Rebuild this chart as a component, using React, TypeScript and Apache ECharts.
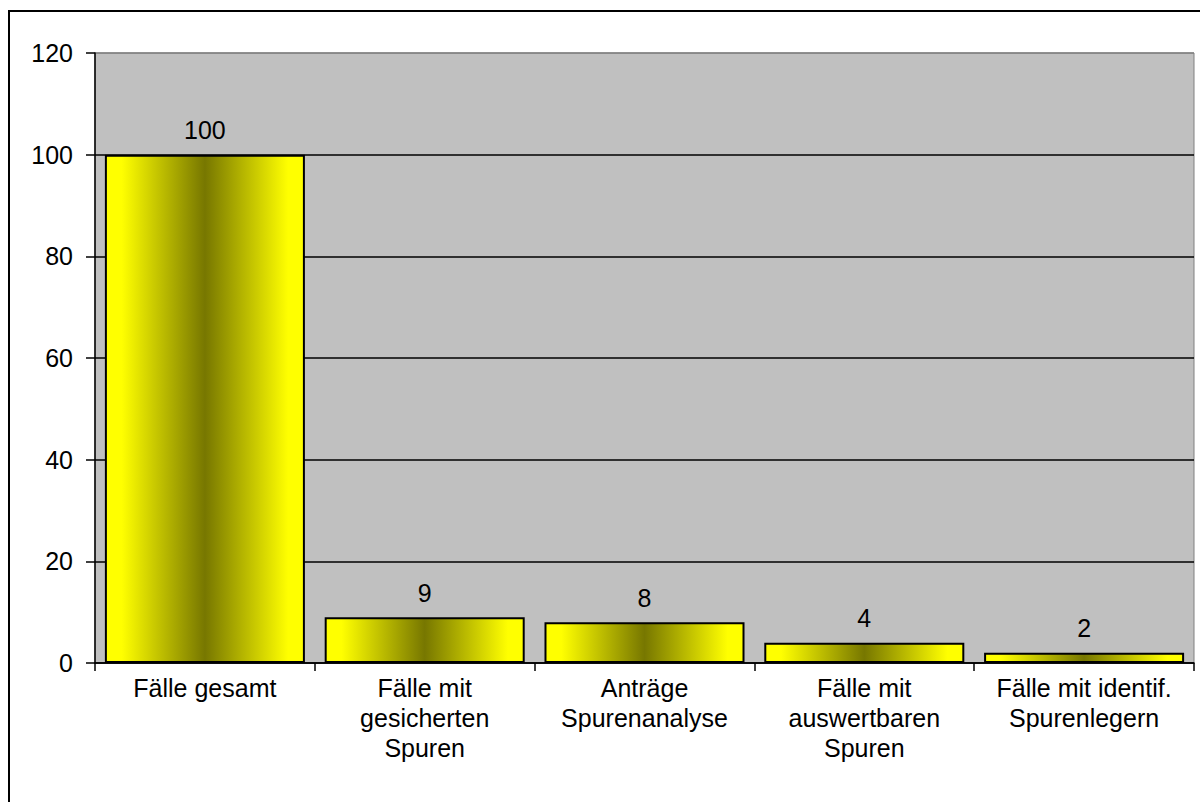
import React, { useEffect, useRef } from "react";
import * as echarts from "echarts";

const categories = [
  "Fälle gesamt",
  "Fälle mit\ngesicherten\nSpuren",
  "Anträge\nSpurenanalyse",
  "Fälle mit\nauswertbaren\nSpuren",
  "Fälle mit identif.\nSpurenlegern",
];
const values = [100, 9, 8, 4, 2];
const yTicks = { min: 0, max: 120, interval: 20 };

const FONT = "'Liberation Sans', Arial, sans-serif";

export default function App() {
  const ref = useRef<HTMLDivElement>(null);
  useEffect(() => {
    if (!ref.current) return;
    const chart = echarts.init(ref.current, null, { renderer: "svg" });
    const barGradient = new echarts.graphic.LinearGradient(0, 0, 1, 0, [
      { offset: 0, color: "#ffff00" },
      { offset: 0.08, color: "#ffff00" },
      { offset: 0.5, color: "#777700" },
      { offset: 0.92, color: "#ffff00" },
      { offset: 1, color: "#ffff00" },
    ]);
    chart.setOption({
      animation: false,
      backgroundColor: "#ffffff",
      textStyle: { fontFamily: FONT },
      grid: {
        left: 95,
        top: 53,
        right: 6,
        bottom: 139,
        show: true,
        backgroundColor: "#c0c0c0",
        borderColor: "#808080",
        borderWidth: 1,
      },
      graphic: [
        {
          type: "rect",
          shape: { x: 9, y: 11, width: 1300, height: 900 },
          style: { fill: "none", stroke: "#000", lineWidth: 2 },
          silent: true,
        },
      ],
      xAxis: {
        type: "category",
        data: categories,
        axisLine: { show: true, lineStyle: { color: "#000", width: 1.5 } },
        axisTick: { show: true, length: 8, lineStyle: { color: "#000", width: 1.5 } },
        axisLabel: {
          color: "#000",
          fontSize: 25,
          fontFamily: FONT,
          lineHeight: 30,
          margin: 10,
          interval: 0,
        },
        splitLine: { show: false },
      },
      yAxis: {
        type: "value",
        min: yTicks.min,
        max: yTicks.max,
        interval: yTicks.interval,
        axisLine: { show: true, lineStyle: { color: "#000", width: 1.5 } },
        axisTick: { show: true, length: 9, lineStyle: { color: "#000", width: 1.5 } },
        axisLabel: { color: "#000", fontSize: 25, fontFamily: FONT, margin: 22 },
        splitLine: {
          show: true,
          lineStyle: {
            color: ["#000", "#000", "#000", "#000", "#000", "#000", "#808080"],
            width: 1.5,
          },
        },
      },
      series: [
        {
          type: "bar",
          data: values,
          barWidth: "91%",
          itemStyle: { color: barGradient, borderColor: "#000", borderWidth: 2 },
          label: {
            show: true,
            position: "top",
            distance: 12,
            color: "#000",
            fontSize: 25,
            lineHeight: 25,
            fontFamily: FONT,
          },
        },
      ],
    });
    return () => chart.dispose();
  }, []);
  return (
    <div
      ref={ref}
      style={{ position: "fixed", left: 0, top: 0, width: 1200, height: 802 }}
    />
  );
}
